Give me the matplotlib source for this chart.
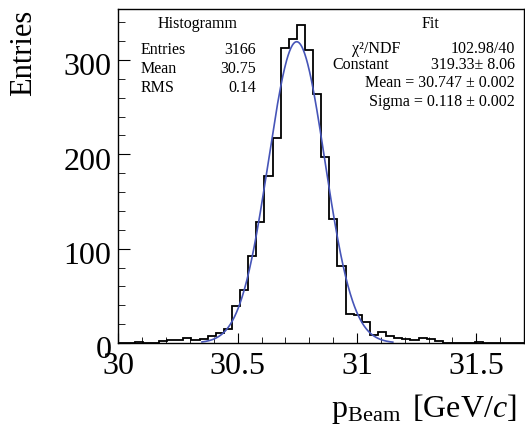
import numpy as np
import matplotlib
matplotlib.use('Agg')
import matplotlib.pyplot as plt
from matplotlib.ticker import MultipleLocator
from matplotlib.transforms import ScaledTranslation

plt.rcParams['font.family'] = ['Liberation Serif', 'DejaVu Serif']
plt.rcParams['mathtext.fontset'] = 'custom'
plt.rcParams['mathtext.rm'] = 'Liberation Serif'
plt.rcParams['mathtext.it'] = 'Liberation Serif:italic'

# histogram: 50 bins from 30 to 31.7 GeV/c
bin_lo = 30.0
bin_hi = 31.7
n_bins = 50
counts = [0, 0, 1, 0, 0, 2, 3, 3, 5, 3,
          4, 7, 11, 15, 39, 56, 92, 128, 177, 217,
          313, 322, 337, 311, 264, 197, 131, 82, 31, 30,
          22, 8, 12, 7, 5, 4, 3, 5, 4, 2,
          0, 0, 0, 0, 1, 0, 0, 0, 0, 0]

# gaussian fit results
fit_const = 319.33
fit_mean = 30.747
fit_sigma = 0.118
fit_range = (30.35, 31.15)

x_ticks = [30, 30.5, 31, 31.5]
x_ticklabels = ['30', '30.5', '31', '31.5']

edges = np.linspace(bin_lo, bin_hi, n_bins + 1)
xf = np.linspace(fit_range[0], fit_range[1], 400)
yf = fit_const * np.exp(-0.5 * ((xf - fit_mean) / fit_sigma) ** 2)

W, H = 525, 427
fig = plt.figure(figsize=(W / 100, H / 100), dpi=100)
ax = fig.add_axes([118.5 / W, 1 - 344 / H, (524 - 118.5) / W, (344 - 10) / H])

ax.stairs(counts, edges, color='black', lw=1.3)
ax.plot(xf, yf, color='#4655b8', lw=1.2)

ax.set_xlim(30, 31.7)
ax.set_ylim(0, 354)
ax.xaxis.set_minor_locator(MultipleLocator(0.1))
ax.yaxis.set_major_locator(MultipleLocator(100))
ax.yaxis.set_minor_locator(MultipleLocator(20))
ax.set_xticks(x_ticks)
ax.set_xticklabels(x_ticklabels)
ax.tick_params(which='both', direction='in', top=False, right=False, labelsize=23)
ax.tick_params(axis='x', which='major', length=7, pad=6)
ax.tick_params(axis='x', which='minor', length=4.3)
ax.tick_params(axis='y', which='major', length=8.5, pad=5)
ax.tick_params(axis='y', which='minor', length=5)
for sp in ax.spines.values():
    sp.set_linewidth(1.0)
# ROOT-style labels sit a little below their ticks
shift = ScaledTranslation(0, -0.035, fig.dpi_scale_trans)
for lbl in ax.get_yticklabels():
    lbl.set_transform(lbl.get_transform() + shift)

fig.text(24 / W, 1 - 10 / H, 'Entries', rotation=90, ha='center', va='top', fontsize=22)
fig.text(517 / W, 1 - 409 / H, r'$\mathrm{p}_{\mathrm{Beam}}\,$ [GeV/$c$]', ha='right', va='center', fontsize=23)

def put(x, y, s, ha='left'):
    fig.text(x / W, 1 - y / H, s, ha=ha, va='baseline', fontsize=11.5)

# stats box
put(198, 28, 'Histogramm', ha='center')
put(141, 54, 'Entries')
put(141, 73, 'Mean')
put(141, 92, 'RMS')
put(256, 54, '3166', ha='right')
put(256, 73, '30.75', ha='right')
put(256, 92, '0.14', ha='right')

# fit box
put(430, 28, 'Fit', ha='center')
put(352, 53, 'χ²/NDF')
put(515, 53, '102.98/40', ha='right')
put(332, 69, 'Constant')
put(515, 69, '319.33± 8.06', ha='right')
put(515, 87, 'Mean = 30.747 ± 0.002', ha='right')
put(515, 106, 'Sigma = 0.118 ± 0.002', ha='right')

fig.savefig('out.png', dpi=100)
